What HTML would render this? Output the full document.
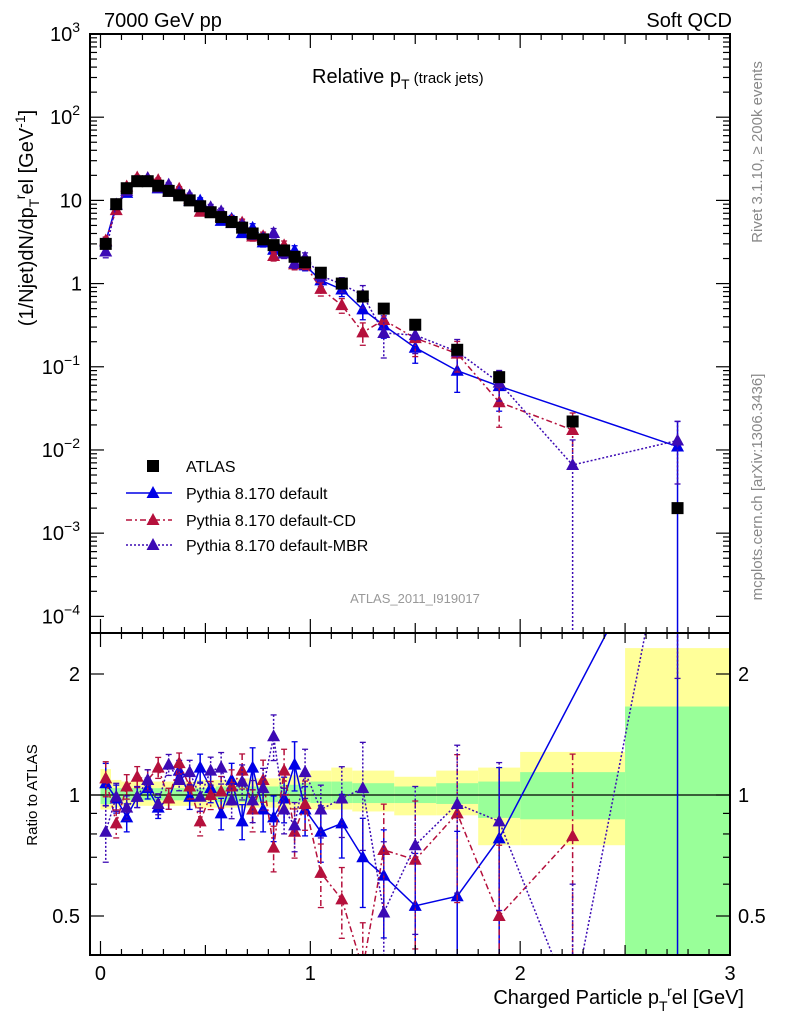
<!DOCTYPE html>
<html><head><meta charset="utf-8">
<style>
html,body{margin:0;padding:0;background:#fff;width:786px;height:1024px;overflow:hidden;}
svg{display:block;font-family:"Liberation Sans",Arial,sans-serif;}
</style></head>
<body>
<svg id="chart" width="786" height="1024" viewBox="0 0 786 1024" xmlns="http://www.w3.org/2000/svg">
<defs>
<clipPath id="clipMain"><rect x="90" y="34" width="640" height="599"/></clipPath>
<clipPath id="clipRatio"><rect x="90" y="633" width="640" height="322"/></clipPath>
</defs>
<g id="bands" clip-path="url(#clipRatio)"></g>
<g id="marksMain" clip-path="url(#clipMain)"></g>
<g id="marksRatio" clip-path="url(#clipRatio)"></g>
<g id="axes"></g>
<text x="104" y="27" font-size="20">7000 GeV pp</text>
<text x="732" y="27" font-size="20" text-anchor="end">Soft QCD</text>
<text x="312" y="83" font-size="20">Relative p<tspan font-size="14" dy="6">T</tspan><tspan font-size="15" dy="-6"> (track jets)</tspan></text>
<text x="415" y="603" font-size="13" fill="#999" text-anchor="middle">ATLAS_2011_I919017</text>
<text transform="translate(762,152) rotate(-90)" font-size="15" fill="#888" text-anchor="middle">Rivet 3.1.10, ≥ 200k events</text>
<text transform="translate(762,487) rotate(-90)" font-size="15" fill="#888" text-anchor="middle">mcplots.cern.ch [arXiv:1306.3436]</text>
<text transform="translate(33,218) rotate(-90)" font-size="20" text-anchor="middle">(1/Njet)dN/dp<tspan font-size="14" dy="6">T</tspan><tspan font-size="14" dy="-14">r</tspan><tspan dy="8">el [GeV</tspan><tspan font-size="14" dy="-8">-1</tspan><tspan dy="8">]</tspan></text>
<text transform="translate(37,795) rotate(-90)" font-size="15" text-anchor="middle">Ratio to ATLAS</text>
<text x="744" y="1004" font-size="20" text-anchor="end">Charged Particle p<tspan font-size="14" dy="7">T</tspan><tspan font-size="14" dy="-15">r</tspan><tspan dy="8">el [GeV]</tspan></text>
<g id="legend"></g>
</svg>
<script>
const xVals=[0.025,0.075,0.125,0.175,0.225,0.275,0.325,0.375,0.425,0.475,0.525,0.575,0.625,0.675,0.725,0.775,0.825,0.875,0.925,0.975,1.05,1.15,1.25,1.35,1.5,1.7,1.9,2.25,2.75];
const atlasVals=[3.0,9,14,17,17,15,13,11.5,10,8.5,7.2,6.3,5.5,4.7,4.0,3.4,2.9,2.5,2.1,1.8,1.35,1.0,0.7,0.5,0.32,0.16,0.075,0.022,0.002];
const ratioDefault=[1.07,0.98,0.88,0.99,1.04,0.93,0.98,1.15,0.99,1.17,1.04,0.90,1.09,0.86,1.17,0.92,0.88,0.98,1.19,0.92,0.81,0.85,0.70,0.63,0.53,0.56,0.78,null,5.5];
const ratioCD=[1.10,0.85,1.05,1.11,1.09,1.17,0.98,1.20,1.05,0.86,1.0,1.02,1.05,1.15,0.92,1.09,0.74,1.15,0.81,0.95,0.64,0.55,0.37,0.73,0.69,0.90,0.50,0.79,null];
const ratioMBR=[0.81,0.99,0.93,0.99,1.09,0.95,1.19,1.09,1.14,0.99,1.15,1.17,0.97,1.08,0.97,1.04,1.40,0.92,0.84,1.14,0.92,0.98,1.04,0.51,0.75,0.95,0.86,0.30,6.5];
const errDefault=[0.12,0.08,0.08,0.06,0.06,0.06,0.06,0.06,0.07,0.08,0.08,0.09,0.1,0.1,0.12,0.12,0.13,0.13,0.14,0.14,0.16,0.18,0.25,0.3,0.35,0.45,0.5,0,1.0];
const errCD=[0.1,0.08,0.07,0.06,0.06,0.06,0.06,0.06,0.07,0.08,0.08,0.09,0.1,0.1,0.12,0.12,0.13,0.13,0.14,0.14,0.18,0.2,0.3,0.3,0.4,0.4,0.5,0.6,0];
const errMBR=[0.16,0.08,0.07,0.06,0.06,0.06,0.06,0.06,0.07,0.08,0.08,0.09,0.1,0.1,0.12,0.12,0.13,0.13,0.14,0.14,0.15,0.2,0.3,0.5,0.4,0.4,0.4,1.0,0.7];
const bandEdges=[0,0.05,0.1,0.15,0.2,0.25,0.3,0.35,0.4,0.45,0.5,0.55,0.6,0.65,0.7,0.75,0.8,0.85,0.9,0.95,1.0,1.1,1.2,1.4,1.6,1.8,2.0,2.5,3.0];
const yellowHi=[1.16,1.09,1.08,1.08,1.08,1.08,1.08,1.08,1.08,1.09,1.09,1.09,1.09,1.1,1.1,1.1,1.1,1.11,1.12,1.13,1.15,1.17,1.15,1.11,1.15,1.17,1.28,2.32];
const yellowLo=[0.92,0.93,0.94,0.94,0.94,0.94,0.94,0.94,0.94,0.93,0.93,0.93,0.93,0.93,0.93,0.93,0.93,0.92,0.92,0.92,0.92,0.92,0.91,0.89,0.89,0.75,0.75,0.3];
const greenHi=[1.06,1.04,1.04,1.04,1.04,1.04,1.04,1.04,1.04,1.04,1.04,1.05,1.05,1.05,1.05,1.05,1.05,1.06,1.06,1.07,1.08,1.08,1.07,1.05,1.07,1.08,1.14,1.66];
const greenLo=[0.95,0.97,0.97,0.97,0.97,0.97,0.97,0.97,0.97,0.97,0.97,0.96,0.96,0.96,0.96,0.96,0.96,0.96,0.96,0.96,0.955,0.955,0.955,0.955,0.95,0.877,0.87,0.3];
const mainTicks=[3,2,1,0,-1,-2,-3,-4];
const ratioTicks=[2,1,0.5];
const xTicks=[0,1,2,3];

const NS="http://www.w3.org/2000/svg";
const X0=90,X1=730,MY0=34,MY1=633,RY0=633,RY1=955;
function sx(v){return X0+(v+0.05)/3.05*(X1-X0);}
function sy(v){return MY0+(3-Math.log10(v))/7.2*(MY1-MY0);}
function ry(v){return 795-Math.log2(v)*121;}
function mk(tag,attrs,parent){const e=document.createElementNS(NS,tag);for(const k in attrs)e.setAttribute(k,attrs[k]);parent.appendChild(e);return e;}

const bands=document.getElementById('bands');
for(let i=0;i<bandEdges.length-1;i++){
  const xa=sx(bandEdges[i]),xb=sx(bandEdges[i+1]);
  const r1=mk('rect',{x:xa,y:ry(yellowHi[i]),width:xb-xa,height:ry(yellowLo[i])-ry(yellowHi[i]),fill:'#ffff99'},bands);
  
  
  const r2=mk('rect',{x:xa,y:ry(greenHi[i]),width:xb-xa,height:ry(greenLo[i])-ry(greenHi[i]),fill:'#99ff99'},bands);
  
  
}
const mR=document.getElementById('marksRatio');
mk('line',{x1:X0,x2:X1,y1:ry(1),y2:ry(1),stroke:'#000','stroke-width':1.3},mR);

const series=[
 {name:'default',ratio:ratioDefault,err:errDefault,color:'#0000e6',dash:'',label:'Pythia 8.170 default'},
 {name:'default-cd',ratio:ratioCD,err:errCD,color:'#b5103c',dash:'6,3,2,3',label:'Pythia 8.170 default-CD'},
 {name:'default-mbr',ratio:ratioMBR,err:errMBR,color:'#3c0ab4',dash:'2,2',label:'Pythia 8.170 default-MBR'}
];
const mM=document.getElementById('marksMain');
function tri(x,y,c,p){const e=mk('polygon',{points:`${x},${y-7} ${x-6.5},${y+5} ${x+6.5},${y+5}`,fill:c},p);return e;}
series.forEach(s=>{
  [[mM,(i)=>atlasVals[i]*s.ratio[i],sy],[mR,(i)=>s.ratio[i],ry]].forEach(([par,val,f])=>{
    let pts=[];
    xVals.forEach((x,i)=>{if(s.ratio[i]!==null)pts.push(sx(x)+','+f(val(i)));});
    const pl=mk('polyline',{points:pts.join(' '),fill:'none',stroke:s.color,'stroke-width':1.5,'stroke-dasharray':s.dash},par);
    
    
    xVals.forEach((x,i)=>{
      if(s.ratio[i]===null)return;
      const v=val(i),e=s.err[i];
      const hi=f(v*(1+e)),lo=e>=1?1000:f(v*(1-e));
      const px=sx(x);
      mk('line',{x1:px,x2:px,y1:hi,y2:lo,stroke:s.color,'stroke-width':1.5,'stroke-dasharray':s.dash},par);
      mk('line',{x1:px-3,x2:px+3,y1:hi,y2:hi,stroke:s.color,'stroke-width':1.3},par);
      mk('line',{x1:px-3,x2:px+3,y1:lo,y2:lo,stroke:s.color,'stroke-width':1.3},par);
      const t=tri(px,f(v),s.color,par);
      
      
    });
  });
});
xVals.forEach((x,i)=>{
  const r=mk('rect',{x:sx(x)-6,y:sy(atlasVals[i])-6,width:12,height:12,fill:'#000'},mM);
  
  
});

const ax=document.getElementById('axes');
[[MY0,MY1],[RY0,RY1]].forEach(([a,b])=>{
  const fr=mk('rect',{x:X0,y:a,width:X1-X0,height:b-a,fill:'none',stroke:'#000','stroke-width':2},ax);
  
  
  for(let k=0;k<=30;k++){
    const v=k/10,px=sx(v);const L=(k%10===0)?14:(k%5===0?10:6);
    mk('line',{x1:px,x2:px,y1:a,y2:a+L,stroke:'#000','stroke-width':1.2},ax);
    mk('line',{x1:px,x2:px,y1:b,y2:b-L,stroke:'#000','stroke-width':1.2},ax);
  }
});
mainTicks.forEach(d=>{
  for(let m=1;m<=9;m++){const v=Math.pow(10,d)*m;const py=sy(v);if(py<MY0||py>MY1)continue;
    const L=m===1?14:7;
    mk('line',{x1:X0,x2:X0+L,y1:py,y2:py,stroke:'#000','stroke-width':1.2},ax);
    mk('line',{x1:X1,x2:X1-L,y1:py,y2:py,stroke:'#000','stroke-width':1.2},ax);}
  const py=sy(Math.pow(10,d));
  let t;
  if(d===0) t=mk('text',{x:82,y:py+7,'font-size':20,'text-anchor':'end'},ax),t.textContent='1';
  else if(d===1) t=mk('text',{x:82,y:py+7,'font-size':20,'text-anchor':'end'},ax),t.textContent='10';
  else {t=mk('text',{x:80,y:py+7,'font-size':20,'text-anchor':'end'},ax);
    t.innerHTML='10<tspan font-size="14" dy="-9">'+(d<0?'−':'')+Math.abs(d)+'</tspan>';}
  
  
});
[0.4,0.5,0.6,0.7,0.8,0.9,1,2].forEach(v=>{const py=ry(v);const L=(v===1||v===2||v===0.5)?14:7;
  mk('line',{x1:X0,x2:X0+L,y1:py,y2:py,stroke:'#000','stroke-width':1.2},ax);
  mk('line',{x1:X1,x2:X1-L,y1:py,y2:py,stroke:'#000','stroke-width':1.2},ax);});
ratioTicks.forEach(v=>{
  const t1=mk('text',{x:80,y:ry(v)+7,'font-size':20,'text-anchor':'end'},ax);t1.textContent=String(v);
  
  
  const t2=mk('text',{x:738,y:ry(v)+7,'font-size':20},ax);t2.textContent=String(v);
  
  
});
xTicks.forEach(v=>{
  const t=mk('text',{x:sx(v),y:980,'font-size':20,'text-anchor':'middle'},ax);t.textContent=String(v);
  
  
});

const lg=document.getElementById('legend');
const ly=[466,493,520,545];
mk('rect',{x:147,y:ly[0]-6,width:12,height:12,fill:'#000'},lg);
const lt=mk('text',{x:186,y:ly[0]+6,'font-size':16},lg);lt.textContent='ATLAS';


series.forEach((s,i)=>{
  const y=ly[i+1];
  mk('line',{x1:126,x2:172,y1:y,y2:y,stroke:s.color,'stroke-width':1.5,'stroke-dasharray':s.dash},lg);
  tri(153,y,s.color,lg);
  const t=mk('text',{x:186,y:y+6,'font-size':16},lg);t.textContent=s.label;
  
  
});
</script>
</body></html>
